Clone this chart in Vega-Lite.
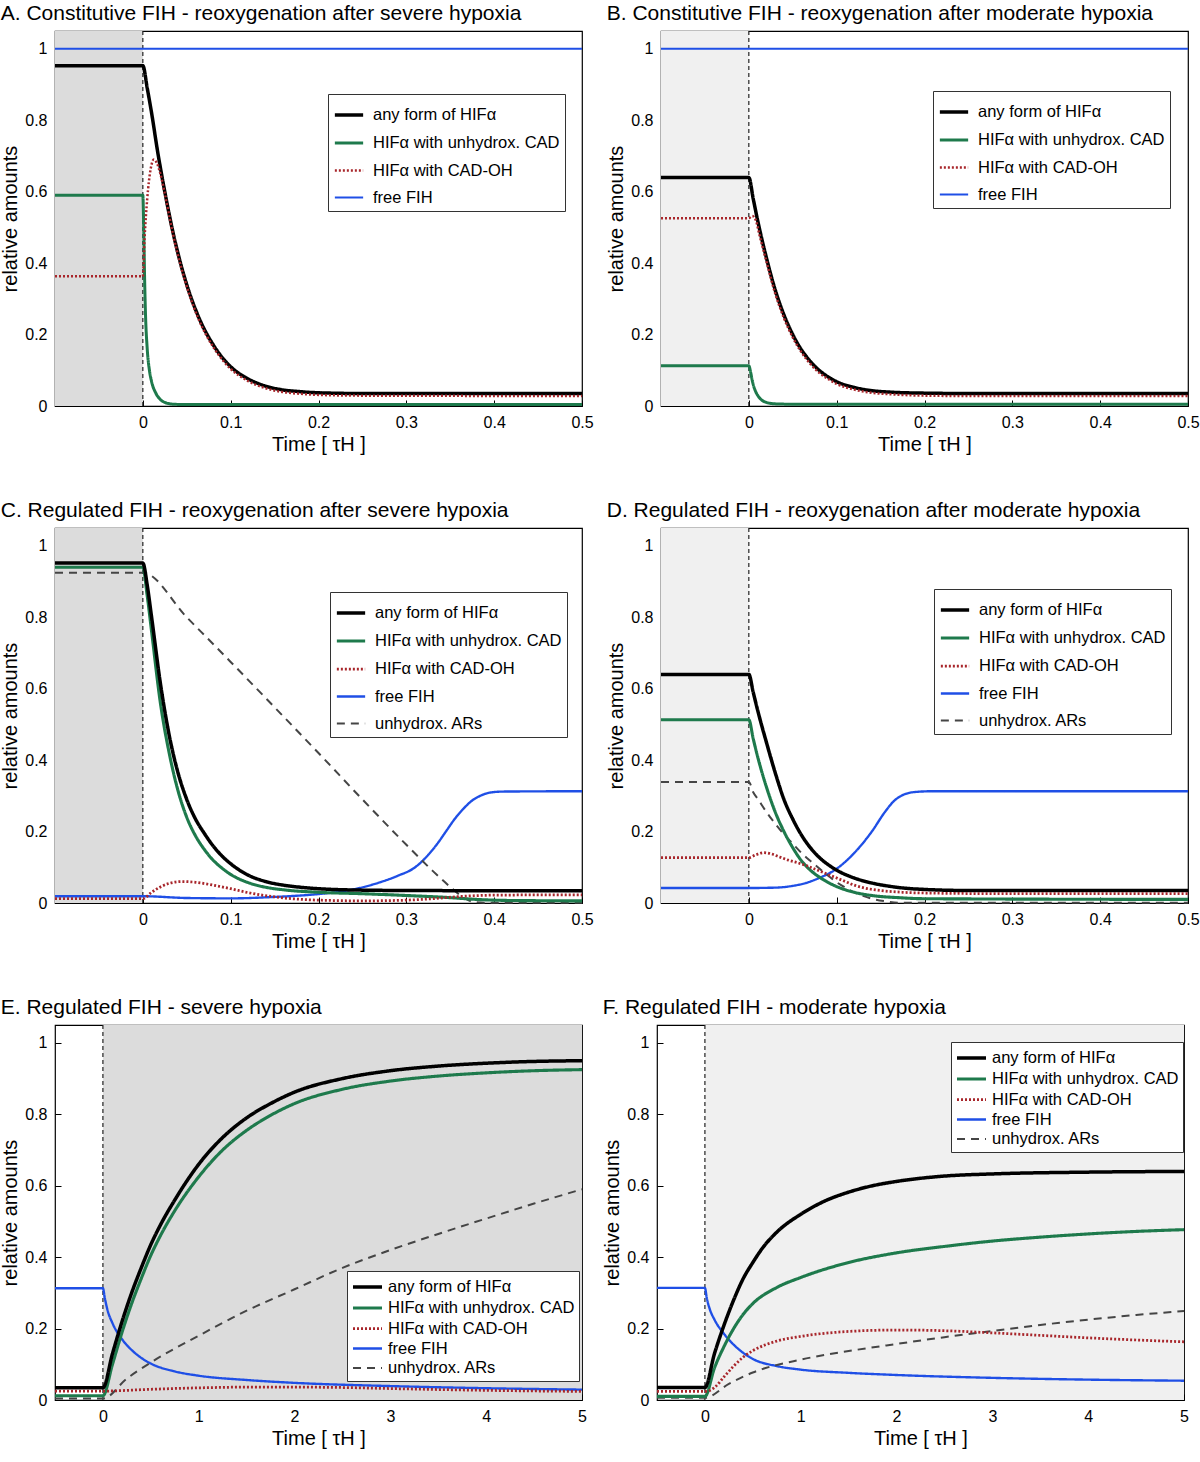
{
"$schema": "https://vega.github.io/schema/vega-lite/v6.json",
"padding": {"left": 0, "top": 2, "right": 0, "bottom": 2},
"background": "white",
"config": {
  "font": "Liberation Sans",
  "view": {"stroke": "#000", "strokeWidth": 1.2},
  "axis": {"grid": false, "domain": false, "labelFontSize": 16, "titleFontSize": 20, "titleFontWeight": "normal", "labelColor": "#000", "titleColor": "#000", "tickColor": "#000", "tickSize": -6, "labelPadding": 14, "labelFlush": false, "labelFont": "Liberation Sans", "titleFont": "Liberation Sans"},
  "title": {"fontSize": 21, "fontWeight": "normal", "anchor": "start", "frame": "bounds", "offset": 6, "color": "#000", "font": "Liberation Sans"},
  "legend": {"orient": "none", "labelFontSize": 16.5, "labelColor": "#000", "labelFont": "Liberation Sans", "symbolType": "stroke", "symbolSize": 800, "strokeColor": "#333", "fillColor": "#fff", "padding": 5, "labelOffset": 8, "labelLimit": 400}
},
"datasets": {
"A": [
{"t":-0.1,"v":1,"s":"fih"},{"t":0.5,"v":1,"s":"fih"},
{"t":-0.1,"v":0.59,"s":"cad"},{"t":0,"v":0.59,"s":"cad"},{"t":0.001,"v":0.5,"s":"cad"},{"t":0.002,"v":0.36,"s":"cad"},{"t":0.003,"v":0.26,"s":"cad"},{"t":0.005,"v":0.16,"s":"cad"},{"t":0.0075,"v":0.1,"s":"cad"},{"t":0.01,"v":0.068,"s":"cad"},{"t":0.015,"v":0.035,"s":"cad"},{"t":0.02,"v":0.018,"s":"cad"},{"t":0.025,"v":0.01,"s":"cad"},{"t":0.035,"v":0.005,"s":"cad"},{"t":0.05,"v":0.004,"s":"cad"},{"t":0.5,"v":0.004,"s":"cad"},
{"t":-0.1,"v":0.953,"s":"any"},{"t":0,"v":0.953,"s":"any"},{"t":0.005,"v":0.89,"s":"any"},{"t":0.01,"v":0.82,"s":"any"},{"t":0.017,"v":0.71,"s":"any"},{"t":0.025,"v":0.6,"s":"any"},{"t":0.034,"v":0.49,"s":"any"},{"t":0.044,"v":0.39,"s":"any"},{"t":0.053,"v":0.317,"s":"any"},{"t":0.063,"v":0.252,"s":"any"},{"t":0.081,"v":0.168,"s":"any"},{"t":0.1,"v":0.11,"s":"any"},{"t":0.119,"v":0.077,"s":"any"},{"t":0.138,"v":0.057,"s":"any"},{"t":0.157,"v":0.046,"s":"any"},{"t":0.18,"v":0.04,"s":"any"},{"t":0.2,"v":0.037,"s":"any"},{"t":0.25,"v":0.035,"s":"any"},{"t":0.5,"v":0.035,"s":"any"},
{"t":-0.1,"v":0.363,"s":"oh"},{"t":0,"v":0.363,"s":"oh"},{"t":0.002,"v":0.47,"s":"oh"},{"t":0.005,"v":0.58,"s":"oh"},{"t":0.009,"v":0.665,"s":"oh"},{"t":0.0125,"v":0.69,"s":"oh"},{"t":0.016,"v":0.68,"s":"oh"},{"t":0.02,"v":0.65,"s":"oh"},{"t":0.025,"v":0.595,"s":"oh"},{"t":0.034,"v":0.485,"s":"oh"},{"t":0.044,"v":0.385,"s":"oh"},{"t":0.053,"v":0.312,"s":"oh"},{"t":0.063,"v":0.246,"s":"oh"},{"t":0.081,"v":0.162,"s":"oh"},{"t":0.1,"v":0.104,"s":"oh"},{"t":0.119,"v":0.071,"s":"oh"},{"t":0.138,"v":0.051,"s":"oh"},{"t":0.157,"v":0.04,"s":"oh"},{"t":0.18,"v":0.034,"s":"oh"},{"t":0.2,"v":0.031,"s":"oh"},{"t":0.25,"v":0.029,"s":"oh"},{"t":0.5,"v":0.028,"s":"oh"}
],
"B": [
{"t":-0.1,"v":1,"s":"fih"},{"t":0.5,"v":1,"s":"fih"},
{"t":-0.1,"v":0.113,"s":"cad"},{"t":0,"v":0.113,"s":"cad"},{"t":0.002,"v":0.095,"s":"cad"},{"t":0.004,"v":0.07,"s":"cad"},{"t":0.007,"v":0.045,"s":"cad"},{"t":0.01,"v":0.03,"s":"cad"},{"t":0.015,"v":0.016,"s":"cad"},{"t":0.02,"v":0.01,"s":"cad"},{"t":0.03,"v":0.006,"s":"cad"},{"t":0.05,"v":0.005,"s":"cad"},{"t":0.5,"v":0.005,"s":"cad"},
{"t":-0.1,"v":0.64,"s":"any"},{"t":0,"v":0.64,"s":"any"},{"t":0.005,"v":0.58,"s":"any"},{"t":0.01,"v":0.52,"s":"any"},{"t":0.02,"v":0.415,"s":"any"},{"t":0.03,"v":0.325,"s":"any"},{"t":0.04,"v":0.255,"s":"any"},{"t":0.05,"v":0.2,"s":"any"},{"t":0.06,"v":0.157,"s":"any"},{"t":0.07,"v":0.125,"s":"any"},{"t":0.08,"v":0.1,"s":"any"},{"t":0.09,"v":0.082,"s":"any"},{"t":0.1,"v":0.068,"s":"any"},{"t":0.12,"v":0.052,"s":"any"},{"t":0.14,"v":0.043,"s":"any"},{"t":0.16,"v":0.039,"s":"any"},{"t":0.2,"v":0.036,"s":"any"},{"t":0.25,"v":0.035,"s":"any"},{"t":0.5,"v":0.035,"s":"any"},
{"t":-0.1,"v":0.526,"s":"oh"},{"t":0,"v":0.526,"s":"oh"},{"t":0.004,"v":0.532,"s":"oh"},{"t":0.008,"v":0.52,"s":"oh"},{"t":0.012,"v":0.48,"s":"oh"},{"t":0.02,"v":0.405,"s":"oh"},{"t":0.03,"v":0.315,"s":"oh"},{"t":0.04,"v":0.246,"s":"oh"},{"t":0.05,"v":0.192,"s":"oh"},{"t":0.06,"v":0.15,"s":"oh"},{"t":0.07,"v":0.118,"s":"oh"},{"t":0.08,"v":0.093,"s":"oh"},{"t":0.09,"v":0.076,"s":"oh"},{"t":0.1,"v":0.062,"s":"oh"},{"t":0.12,"v":0.046,"s":"oh"},{"t":0.14,"v":0.037,"s":"oh"},{"t":0.16,"v":0.033,"s":"oh"},{"t":0.2,"v":0.029,"s":"oh"},{"t":0.25,"v":0.028,"s":"oh"},{"t":0.5,"v":0.028,"s":"oh"}
],
"C": [
{"t":-0.1,"v":0.019,"s":"fih"},{"t":0,"v":0.019,"s":"fih"},{"t":0.05,"v":0.014,"s":"fih"},{"t":0.1,"v":0.013,"s":"fih"},{"t":0.15,"v":0.017,"s":"fih"},{"t":0.2,"v":0.025,"s":"fih"},{"t":0.225,"v":0.032,"s":"fih"},{"t":0.25,"v":0.044,"s":"fih"},{"t":0.27,"v":0.058,"s":"fih"},{"t":0.29,"v":0.076,"s":"fih"},{"t":0.31,"v":0.1,"s":"fih"},{"t":0.325,"v":0.135,"s":"fih"},{"t":0.335,"v":0.165,"s":"fih"},{"t":0.345,"v":0.2,"s":"fih"},{"t":0.355,"v":0.235,"s":"fih"},{"t":0.365,"v":0.264,"s":"fih"},{"t":0.375,"v":0.287,"s":"fih"},{"t":0.385,"v":0.301,"s":"fih"},{"t":0.395,"v":0.309,"s":"fih"},{"t":0.41,"v":0.312,"s":"fih"},{"t":0.5,"v":0.313,"s":"fih"},
{"t":-0.1,"v":0.925,"s":"ar"},{"t":0,"v":0.925,"s":"ar"},{"t":0.05,"v":0.8,"s":"ar"},{"t":0.1,"v":0.675,"s":"ar"},{"t":0.15,"v":0.548,"s":"ar"},{"t":0.2,"v":0.42,"s":"ar"},{"t":0.25,"v":0.29,"s":"ar"},{"t":0.3,"v":0.163,"s":"ar"},{"t":0.33,"v":0.09,"s":"ar"},{"t":0.35,"v":0.045,"s":"ar"},{"t":0.365,"v":0.015,"s":"ar"},{"t":0.375,"v":0.004,"s":"ar"},{"t":0.39,"v":0.001,"s":"ar"},{"t":0.5,"v":0.001,"s":"ar"},
{"t":-0.1,"v":0.94,"s":"cad"},{"t":0,"v":0.94,"s":"cad"},{"t":0.005,"v":0.86,"s":"cad"},{"t":0.01,"v":0.76,"s":"cad"},{"t":0.02,"v":0.56,"s":"cad"},{"t":0.03,"v":0.42,"s":"cad"},{"t":0.04,"v":0.315,"s":"cad"},{"t":0.05,"v":0.24,"s":"cad"},{"t":0.06,"v":0.188,"s":"cad"},{"t":0.07,"v":0.15,"s":"cad"},{"t":0.08,"v":0.12,"s":"cad"},{"t":0.09,"v":0.098,"s":"cad"},{"t":0.1,"v":0.08,"s":"cad"},{"t":0.12,"v":0.057,"s":"cad"},{"t":0.14,"v":0.044,"s":"cad"},{"t":0.16,"v":0.037,"s":"cad"},{"t":0.2,"v":0.03,"s":"cad"},{"t":0.25,"v":0.026,"s":"cad"},{"t":0.3,"v":0.021,"s":"cad"},{"t":0.35,"v":0.015,"s":"cad"},{"t":0.38,"v":0.01,"s":"cad"},{"t":0.42,"v":0.007,"s":"cad"},{"t":0.5,"v":0.006,"s":"cad"},
{"t":-0.1,"v":0.952,"s":"any"},{"t":0,"v":0.952,"s":"any"},{"t":0.005,"v":0.89,"s":"any"},{"t":0.01,"v":0.8,"s":"any"},{"t":0.02,"v":0.615,"s":"any"},{"t":0.03,"v":0.47,"s":"any"},{"t":0.04,"v":0.365,"s":"any"},{"t":0.05,"v":0.29,"s":"any"},{"t":0.06,"v":0.235,"s":"any"},{"t":0.07,"v":0.195,"s":"any"},{"t":0.08,"v":0.16,"s":"any"},{"t":0.09,"v":0.132,"s":"any"},{"t":0.1,"v":0.11,"s":"any"},{"t":0.12,"v":0.078,"s":"any"},{"t":0.14,"v":0.06,"s":"any"},{"t":0.16,"v":0.05,"s":"any"},{"t":0.18,"v":0.044,"s":"any"},{"t":0.2,"v":0.04,"s":"any"},{"t":0.25,"v":0.036,"s":"any"},{"t":0.3,"v":0.035,"s":"any"},{"t":0.5,"v":0.034,"s":"any"},
{"t":-0.1,"v":0.012,"s":"oh"},{"t":0,"v":0.012,"s":"oh"},{"t":0.01,"v":0.03,"s":"oh"},{"t":0.02,"v":0.045,"s":"oh"},{"t":0.03,"v":0.055,"s":"oh"},{"t":0.045,"v":0.06,"s":"oh"},{"t":0.06,"v":0.058,"s":"oh"},{"t":0.08,"v":0.05,"s":"oh"},{"t":0.1,"v":0.04,"s":"oh"},{"t":0.12,"v":0.029,"s":"oh"},{"t":0.15,"v":0.017,"s":"oh"},{"t":0.2,"v":0.008,"s":"oh"},{"t":0.25,"v":0.006,"s":"oh"},{"t":0.3,"v":0.008,"s":"oh"},{"t":0.33,"v":0.012,"s":"oh"},{"t":0.36,"v":0.018,"s":"oh"},{"t":0.4,"v":0.022,"s":"oh"},{"t":0.5,"v":0.023,"s":"oh"}
],
"D": [
{"t":-0.1,"v":0.042,"s":"fih"},{"t":0,"v":0.042,"s":"fih"},{"t":0.03,"v":0.043,"s":"fih"},{"t":0.05,"v":0.048,"s":"fih"},{"t":0.065,"v":0.056,"s":"fih"},{"t":0.08,"v":0.07,"s":"fih"},{"t":0.1,"v":0.096,"s":"fih"},{"t":0.12,"v":0.14,"s":"fih"},{"t":0.14,"v":0.2,"s":"fih"},{"t":0.155,"v":0.255,"s":"fih"},{"t":0.165,"v":0.285,"s":"fih"},{"t":0.175,"v":0.302,"s":"fih"},{"t":0.19,"v":0.311,"s":"fih"},{"t":0.21,"v":0.313,"s":"fih"},{"t":0.5,"v":0.313,"s":"fih"},
{"t":-0.1,"v":0.339,"s":"ar"},{"t":0,"v":0.339,"s":"ar"},{"t":0.005,"v":0.31,"s":"ar"},{"t":0.01,"v":0.292,"s":"ar"},{"t":0.02,"v":0.255,"s":"ar"},{"t":0.03,"v":0.222,"s":"ar"},{"t":0.04,"v":0.192,"s":"ar"},{"t":0.05,"v":0.166,"s":"ar"},{"t":0.06,"v":0.14,"s":"ar"},{"t":0.07,"v":0.118,"s":"ar"},{"t":0.08,"v":0.097,"s":"ar"},{"t":0.09,"v":0.077,"s":"ar"},{"t":0.1,"v":0.058,"s":"ar"},{"t":0.11,"v":0.043,"s":"ar"},{"t":0.12,"v":0.03,"s":"ar"},{"t":0.13,"v":0.02,"s":"ar"},{"t":0.14,"v":0.012,"s":"ar"},{"t":0.155,"v":0.005,"s":"ar"},{"t":0.17,"v":0.001,"s":"ar"},{"t":0.5,"v":0.001,"s":"ar"},
{"t":-0.1,"v":0.513,"s":"cad"},{"t":0,"v":0.513,"s":"cad"},{"t":0.005,"v":0.46,"s":"cad"},{"t":0.01,"v":0.41,"s":"cad"},{"t":0.02,"v":0.325,"s":"cad"},{"t":0.03,"v":0.255,"s":"cad"},{"t":0.04,"v":0.2,"s":"cad"},{"t":0.05,"v":0.155,"s":"cad"},{"t":0.06,"v":0.118,"s":"cad"},{"t":0.07,"v":0.092,"s":"cad"},{"t":0.08,"v":0.073,"s":"cad"},{"t":0.09,"v":0.058,"s":"cad"},{"t":0.1,"v":0.046,"s":"cad"},{"t":0.12,"v":0.03,"s":"cad"},{"t":0.14,"v":0.021,"s":"cad"},{"t":0.17,"v":0.015,"s":"cad"},{"t":0.2,"v":0.012,"s":"cad"},{"t":0.5,"v":0.01,"s":"cad"},
{"t":-0.1,"v":0.64,"s":"any"},{"t":0,"v":0.64,"s":"any"},{"t":0.005,"v":0.59,"s":"any"},{"t":0.01,"v":0.54,"s":"any"},{"t":0.02,"v":0.45,"s":"any"},{"t":0.03,"v":0.365,"s":"any"},{"t":0.04,"v":0.29,"s":"any"},{"t":0.05,"v":0.235,"s":"any"},{"t":0.06,"v":0.19,"s":"any"},{"t":0.07,"v":0.155,"s":"any"},{"t":0.08,"v":0.128,"s":"any"},{"t":0.09,"v":0.108,"s":"any"},{"t":0.1,"v":0.092,"s":"any"},{"t":0.12,"v":0.07,"s":"any"},{"t":0.14,"v":0.056,"s":"any"},{"t":0.16,"v":0.047,"s":"any"},{"t":0.18,"v":0.041,"s":"any"},{"t":0.2,"v":0.038,"s":"any"},{"t":0.25,"v":0.035,"s":"any"},{"t":0.5,"v":0.035,"s":"any"},
{"t":-0.1,"v":0.127,"s":"oh"},{"t":0,"v":0.127,"s":"oh"},{"t":0.008,"v":0.135,"s":"oh"},{"t":0.017,"v":0.141,"s":"oh"},{"t":0.025,"v":0.138,"s":"oh"},{"t":0.035,"v":0.129,"s":"oh"},{"t":0.045,"v":0.12,"s":"oh"},{"t":0.055,"v":0.113,"s":"oh"},{"t":0.065,"v":0.105,"s":"oh"},{"t":0.075,"v":0.095,"s":"oh"},{"t":0.087,"v":0.083,"s":"oh"},{"t":0.1,"v":0.07,"s":"oh"},{"t":0.11,"v":0.06,"s":"oh"},{"t":0.12,"v":0.05,"s":"oh"},{"t":0.13,"v":0.043,"s":"oh"},{"t":0.15,"v":0.035,"s":"oh"},{"t":0.175,"v":0.03,"s":"oh"},{"t":0.2,"v":0.028,"s":"oh"},{"t":0.3,"v":0.026,"s":"oh"},{"t":0.5,"v":0.026,"s":"oh"}
],
"E": [
{"t":-0.5,"v":0.313,"s":"fih"},{"t":0,"v":0.313,"s":"fih"},{"t":0.02,"v":0.285,"s":"fih"},{"t":0.05,"v":0.25,"s":"fih"},{"t":0.1,"v":0.215,"s":"fih"},{"t":0.2,"v":0.17,"s":"fih"},{"t":0.3,"v":0.14,"s":"fih"},{"t":0.4,"v":0.118,"s":"fih"},{"t":0.5,"v":0.102,"s":"fih"},{"t":0.75,"v":0.08,"s":"fih"},{"t":1,"v":0.068,"s":"fih"},{"t":1.5,"v":0.056,"s":"fih"},{"t":2,"v":0.048,"s":"fih"},{"t":3,"v":0.039,"s":"fih"},{"t":4,"v":0.033,"s":"fih"},{"t":5,"v":0.029,"s":"fih"},
{"t":-0.5,"v":0.004,"s":"ar"},{"t":0,"v":0.004,"s":"ar"},{"t":0.25,"v":0.06,"s":"ar"},{"t":0.5,"v":0.105,"s":"ar"},{"t":1,"v":0.18,"s":"ar"},{"t":1.5,"v":0.25,"s":"ar"},{"t":2,"v":0.31,"s":"ar"},{"t":2.5,"v":0.37,"s":"ar"},{"t":3,"v":0.42,"s":"ar"},{"t":3.5,"v":0.465,"s":"ar"},{"t":4,"v":0.508,"s":"ar"},{"t":4.5,"v":0.55,"s":"ar"},{"t":5,"v":0.59,"s":"ar"},
{"t":-0.5,"v":0.012,"s":"cad"},{"t":0,"v":0.012,"s":"cad"},{"t":0.1,"v":0.1,"s":"cad"},{"t":0.2,"v":0.19,"s":"cad"},{"t":0.3,"v":0.27,"s":"cad"},{"t":0.4,"v":0.34,"s":"cad"},{"t":0.5,"v":0.405,"s":"cad"},{"t":0.6,"v":0.46,"s":"cad"},{"t":0.75,"v":0.53,"s":"cad"},{"t":1,"v":0.625,"s":"cad"},{"t":1.25,"v":0.7,"s":"cad"},{"t":1.5,"v":0.755,"s":"cad"},{"t":1.75,"v":0.797,"s":"cad"},{"t":2,"v":0.83,"s":"cad"},{"t":2.5,"v":0.87,"s":"cad"},{"t":3,"v":0.893,"s":"cad"},{"t":3.5,"v":0.907,"s":"cad"},{"t":4,"v":0.916,"s":"cad"},{"t":4.5,"v":0.922,"s":"cad"},{"t":5,"v":0.925,"s":"cad"},
{"t":-0.5,"v":0.034,"s":"any"},{"t":0,"v":0.034,"s":"any"},{"t":0.1,"v":0.13,"s":"any"},{"t":0.2,"v":0.22,"s":"any"},{"t":0.3,"v":0.3,"s":"any"},{"t":0.4,"v":0.37,"s":"any"},{"t":0.5,"v":0.435,"s":"any"},{"t":0.6,"v":0.49,"s":"any"},{"t":0.75,"v":0.56,"s":"any"},{"t":1,"v":0.66,"s":"any"},{"t":1.25,"v":0.735,"s":"any"},{"t":1.5,"v":0.79,"s":"any"},{"t":1.75,"v":0.83,"s":"any"},{"t":2,"v":0.862,"s":"any"},{"t":2.5,"v":0.9,"s":"any"},{"t":3,"v":0.922,"s":"any"},{"t":3.5,"v":0.935,"s":"any"},{"t":4,"v":0.943,"s":"any"},{"t":4.5,"v":0.948,"s":"any"},{"t":5,"v":0.95,"s":"any"},
{"t":-0.5,"v":0.025,"s":"oh"},{"t":0,"v":0.025,"s":"oh"},{"t":0.5,"v":0.03,"s":"oh"},{"t":1,"v":0.034,"s":"oh"},{"t":1.5,"v":0.036,"s":"oh"},{"t":2,"v":0.036,"s":"oh"},{"t":2.5,"v":0.035,"s":"oh"},{"t":3,"v":0.032,"s":"oh"},{"t":4,"v":0.027,"s":"oh"},{"t":5,"v":0.024,"s":"oh"}
],
"F": [
{"t":-0.5,"v":0.314,"s":"fih"},{"t":0,"v":0.314,"s":"fih"},{"t":0.02,"v":0.285,"s":"fih"},{"t":0.05,"v":0.255,"s":"fih"},{"t":0.1,"v":0.225,"s":"fih"},{"t":0.2,"v":0.185,"s":"fih"},{"t":0.3,"v":0.155,"s":"fih"},{"t":0.4,"v":0.132,"s":"fih"},{"t":0.5,"v":0.115,"s":"fih"},{"t":0.75,"v":0.095,"s":"fih"},{"t":1,"v":0.085,"s":"fih"},{"t":1.5,"v":0.076,"s":"fih"},{"t":2,"v":0.07,"s":"fih"},{"t":3,"v":0.062,"s":"fih"},{"t":4,"v":0.057,"s":"fih"},{"t":5,"v":0.054,"s":"fih"},
{"t":-0.5,"v":0.006,"s":"ar"},{"t":0,"v":0.006,"s":"ar"},{"t":0.25,"v":0.045,"s":"ar"},{"t":0.5,"v":0.077,"s":"ar"},{"t":1,"v":0.113,"s":"ar"},{"t":1.5,"v":0.137,"s":"ar"},{"t":2,"v":0.157,"s":"ar"},{"t":2.5,"v":0.176,"s":"ar"},{"t":3,"v":0.193,"s":"ar"},{"t":3.5,"v":0.21,"s":"ar"},{"t":4,"v":0.225,"s":"ar"},{"t":4.5,"v":0.238,"s":"ar"},{"t":5,"v":0.249,"s":"ar"},
{"t":-0.5,"v":0.01,"s":"cad"},{"t":0,"v":0.01,"s":"cad"},{"t":0.1,"v":0.09,"s":"cad"},{"t":0.2,"v":0.15,"s":"cad"},{"t":0.3,"v":0.2,"s":"cad"},{"t":0.4,"v":0.24,"s":"cad"},{"t":0.5,"v":0.27,"s":"cad"},{"t":0.75,"v":0.315,"s":"cad"},{"t":1,"v":0.343,"s":"cad"},{"t":1.5,"v":0.385,"s":"cad"},{"t":2,"v":0.412,"s":"cad"},{"t":2.5,"v":0.43,"s":"cad"},{"t":3,"v":0.445,"s":"cad"},{"t":3.5,"v":0.456,"s":"cad"},{"t":4,"v":0.465,"s":"cad"},{"t":4.5,"v":0.472,"s":"cad"},{"t":5,"v":0.477,"s":"cad"},
{"t":-0.5,"v":0.035,"s":"any"},{"t":0,"v":0.035,"s":"any"},{"t":0.1,"v":0.13,"s":"any"},{"t":0.2,"v":0.21,"s":"any"},{"t":0.3,"v":0.28,"s":"any"},{"t":0.4,"v":0.34,"s":"any"},{"t":0.5,"v":0.385,"s":"any"},{"t":0.6,"v":0.425,"s":"any"},{"t":0.75,"v":0.47,"s":"any"},{"t":1,"v":0.52,"s":"any"},{"t":1.25,"v":0.557,"s":"any"},{"t":1.5,"v":0.582,"s":"any"},{"t":1.75,"v":0.6,"s":"any"},{"t":2,"v":0.612,"s":"any"},{"t":2.5,"v":0.627,"s":"any"},{"t":3,"v":0.633,"s":"any"},{"t":4,"v":0.638,"s":"any"},{"t":5,"v":0.64,"s":"any"},
{"t":-0.5,"v":0.024,"s":"oh"},{"t":0,"v":0.024,"s":"oh"},{"t":0.1,"v":0.035,"s":"oh"},{"t":0.2,"v":0.065,"s":"oh"},{"t":0.3,"v":0.095,"s":"oh"},{"t":0.4,"v":0.12,"s":"oh"},{"t":0.5,"v":0.138,"s":"oh"},{"t":0.75,"v":0.165,"s":"oh"},{"t":1,"v":0.178,"s":"oh"},{"t":1.5,"v":0.192,"s":"oh"},{"t":2,"v":0.196,"s":"oh"},{"t":2.5,"v":0.194,"s":"oh"},{"t":3,"v":0.188,"s":"oh"},{"t":3.5,"v":0.181,"s":"oh"},{"t":4,"v":0.174,"s":"oh"},{"t":4.5,"v":0.168,"s":"oh"},{"t":5,"v":0.163,"s":"oh"}
]
},
"spacing": 44,
"resolve": {"scale": {"color": "independent", "strokeDash": "independent", "strokeWidth": "independent"}, "legend": {"color": "independent", "strokeDash": "independent", "strokeWidth": "independent"}},
"vconcat": [
{"spacing": 12,
 "resolve": {"scale": {"color": "independent", "strokeDash": "independent", "strokeWidth": "independent"}, "legend": {"color": "independent", "strokeDash": "independent", "strokeWidth": "independent"}},
 "hconcat": [
 {"title": "A. Constitutive FIH - reoxygenation after severe hypoxia", "width": 527, "height": 375,
  "encoding": {"x": {"field": "t", "type": "quantitative", "scale": {"domain": [-0.1, 0.5], "nice": false, "zero": false}, "axis": {"title": "Time [ τH ]", "values": [0, 0.1, 0.2, 0.3, 0.4, 0.5], "format": "~g"}}},
  "layer": [
   {"data": {"values": [{"t": -0.1, "t2": 0}]}, "mark": {"type": "rect", "color": "#dcdcdc"}, "encoding": {"x2": {"field": "t2"}}},
   {"data": {"values": [{"t": 0}]}, "mark": {"type": "rule", "color": "#222", "strokeDash": [4, 3], "strokeWidth": 1.2}, "encoding": {}},
   {"data": {"name": "A"}, "mark": {"type": "line", "interpolate": "monotone"}, "encoding": {
     "y": {"field": "v", "type": "quantitative", "scale": {"domain": [0, 1.05], "nice": false, "zero": false}, "axis": {"title": "relative amounts", "values": [0, 0.2, 0.4, 0.6, 0.8, 1], "format": "~g"}},
     "color": {"field": "s", "type": "nominal", "scale": {"domain": ["any", "cad", "oh", "fih"], "range": ["#000000", "#1e7a4c", "#a8262b", "#1f4fe6"]}, "legend": {"title": null, "legendX": 273, "legendY": 63, "rowPadding": 3, "labelExpr": "{'any':'any form of HIFα','cad':'HIFα with unhydrox. CAD','oh':'HIFα with CAD-OH','fih':'free FIH','ar':'unhydrox. ARs'}[datum.label]"}},
     "strokeDash": {"field": "s", "type": "nominal", "scale": {"domain": ["any", "cad", "oh", "fih"], "range": [[1, 0], [1, 0], [2, 2], [1, 0]]}, "legend": {"title": null, "legendX": 273, "legendY": 63, "rowPadding": 3, "labelExpr": "{'any':'any form of HIFα','cad':'HIFα with unhydrox. CAD','oh':'HIFα with CAD-OH','fih':'free FIH','ar':'unhydrox. ARs'}[datum.label]"}},
     "strokeWidth": {"field": "s", "type": "nominal", "scale": {"domain": ["any", "cad", "oh", "fih"], "range": [3.5, 2, 2.2, 2]}, "legend": {"title": null, "legendX": 273, "legendY": 63, "rowPadding": 3, "labelExpr": "{'any':'any form of HIFα','cad':'HIFα with unhydrox. CAD','oh':'HIFα with CAD-OH','fih':'free FIH','ar':'unhydrox. ARs'}[datum.label]"}}
   }}
  ]},
 {"title": "B. Constitutive FIH - reoxygenation after moderate hypoxia", "width": 527, "height": 375,
  "encoding": {"x": {"field": "t", "type": "quantitative", "scale": {"domain": [-0.1, 0.5], "nice": false, "zero": false}, "axis": {"title": "Time [ τH ]", "values": [0, 0.1, 0.2, 0.3, 0.4, 0.5], "format": "~g"}}},
  "layer": [
   {"data": {"values": [{"t": -0.1, "t2": 0}]}, "mark": {"type": "rect", "color": "#f0f0f0"}, "encoding": {"x2": {"field": "t2"}}},
   {"data": {"values": [{"t": 0}]}, "mark": {"type": "rule", "color": "#222", "strokeDash": [4, 3], "strokeWidth": 1.2}, "encoding": {}},
   {"data": {"name": "B"}, "mark": {"type": "line", "interpolate": "monotone"}, "encoding": {
     "y": {"field": "v", "type": "quantitative", "scale": {"domain": [0, 1.05], "nice": false, "zero": false}, "axis": {"title": "relative amounts", "values": [0, 0.2, 0.4, 0.6, 0.8, 1], "format": "~g"}},
     "color": {"field": "s", "type": "nominal", "scale": {"domain": ["any", "cad", "oh", "fih"], "range": ["#000000", "#1e7a4c", "#a8262b", "#1f4fe6"]}, "legend": {"title": null, "legendX": 272, "legendY": 60, "rowPadding": 3, "labelExpr": "{'any':'any form of HIFα','cad':'HIFα with unhydrox. CAD','oh':'HIFα with CAD-OH','fih':'free FIH','ar':'unhydrox. ARs'}[datum.label]"}},
     "strokeDash": {"field": "s", "type": "nominal", "scale": {"domain": ["any", "cad", "oh", "fih"], "range": [[1, 0], [1, 0], [2, 2], [1, 0]]}, "legend": {"title": null, "legendX": 272, "legendY": 60, "rowPadding": 3, "labelExpr": "{'any':'any form of HIFα','cad':'HIFα with unhydrox. CAD','oh':'HIFα with CAD-OH','fih':'free FIH','ar':'unhydrox. ARs'}[datum.label]"}},
     "strokeWidth": {"field": "s", "type": "nominal", "scale": {"domain": ["any", "cad", "oh", "fih"], "range": [3.5, 2, 2.2, 2]}, "legend": {"title": null, "legendX": 272, "legendY": 60, "rowPadding": 3, "labelExpr": "{'any':'any form of HIFα','cad':'HIFα with unhydrox. CAD','oh':'HIFα with CAD-OH','fih':'free FIH','ar':'unhydrox. ARs'}[datum.label]"}}
   }}
  ]}
 ]},
{"spacing": 12,
 "resolve": {"scale": {"color": "independent", "strokeDash": "independent", "strokeWidth": "independent"}, "legend": {"color": "independent", "strokeDash": "independent", "strokeWidth": "independent"}},
 "hconcat": [
 {"title": "C. Regulated FIH - reoxygenation after severe hypoxia", "width": 527, "height": 375,
  "encoding": {"x": {"field": "t", "type": "quantitative", "scale": {"domain": [-0.1, 0.5], "nice": false, "zero": false}, "axis": {"title": "Time [ τH ]", "values": [0, 0.1, 0.2, 0.3, 0.4, 0.5], "format": "~g"}}},
  "layer": [
   {"data": {"values": [{"t": -0.1, "t2": 0}]}, "mark": {"type": "rect", "color": "#dcdcdc"}, "encoding": {"x2": {"field": "t2"}}},
   {"data": {"values": [{"t": 0}]}, "mark": {"type": "rule", "color": "#222", "strokeDash": [4, 3], "strokeWidth": 1.2}, "encoding": {}},
   {"data": {"name": "C"}, "mark": {"type": "line", "interpolate": "monotone"}, "encoding": {
     "y": {"field": "v", "type": "quantitative", "scale": {"domain": [0, 1.05], "nice": false, "zero": false}, "axis": {"title": "relative amounts", "values": [0, 0.2, 0.4, 0.6, 0.8, 1], "format": "~g"}},
     "color": {"field": "s", "type": "nominal", "scale": {"domain": ["any", "cad", "oh", "fih", "ar"], "range": ["#000000", "#1e7a4c", "#a8262b", "#1f4fe6", "#454545"]}, "legend": {"title": null, "legendX": 275, "legendY": 64, "rowPadding": 3, "labelExpr": "{'any':'any form of HIFα','cad':'HIFα with unhydrox. CAD','oh':'HIFα with CAD-OH','fih':'free FIH','ar':'unhydrox. ARs'}[datum.label]"}},
     "strokeDash": {"field": "s", "type": "nominal", "scale": {"domain": ["any", "cad", "oh", "fih", "ar"], "range": [[1, 0], [1, 0], [2, 2], [1, 0], [8, 6]]}, "legend": {"title": null, "legendX": 275, "legendY": 64, "rowPadding": 3, "labelExpr": "{'any':'any form of HIFα','cad':'HIFα with unhydrox. CAD','oh':'HIFα with CAD-OH','fih':'free FIH','ar':'unhydrox. ARs'}[datum.label]"}},
     "strokeWidth": {"field": "s", "type": "nominal", "scale": {"domain": ["any", "cad", "oh", "fih", "ar"], "range": [3.5, 2, 2.2, 2, 2.5]}, "legend": {"title": null, "legendX": 275, "legendY": 64, "rowPadding": 3, "labelExpr": "{'any':'any form of HIFα','cad':'HIFα with unhydrox. CAD','oh':'HIFα with CAD-OH','fih':'free FIH','ar':'unhydrox. ARs'}[datum.label]"}}
   }}
  ]},
 {"title": "D. Regulated FIH - reoxygenation after moderate hypoxia", "width": 527, "height": 375,
  "encoding": {"x": {"field": "t", "type": "quantitative", "scale": {"domain": [-0.1, 0.5], "nice": false, "zero": false}, "axis": {"title": "Time [ τH ]", "values": [0, 0.1, 0.2, 0.3, 0.4, 0.5], "format": "~g"}}},
  "layer": [
   {"data": {"values": [{"t": -0.1, "t2": 0}]}, "mark": {"type": "rect", "color": "#f0f0f0"}, "encoding": {"x2": {"field": "t2"}}},
   {"data": {"values": [{"t": 0}]}, "mark": {"type": "rule", "color": "#222", "strokeDash": [4, 3], "strokeWidth": 1.2}, "encoding": {}},
   {"data": {"name": "D"}, "mark": {"type": "line", "interpolate": "monotone"}, "encoding": {
     "y": {"field": "v", "type": "quantitative", "scale": {"domain": [0, 1.05], "nice": false, "zero": false}, "axis": {"title": "relative amounts", "values": [0, 0.2, 0.4, 0.6, 0.8, 1], "format": "~g"}},
     "color": {"field": "s", "type": "nominal", "scale": {"domain": ["any", "cad", "oh", "fih", "ar"], "range": ["#000000", "#1e7a4c", "#a8262b", "#1f4fe6", "#454545"]}, "legend": {"title": null, "legendX": 273, "legendY": 61, "rowPadding": 3, "labelExpr": "{'any':'any form of HIFα','cad':'HIFα with unhydrox. CAD','oh':'HIFα with CAD-OH','fih':'free FIH','ar':'unhydrox. ARs'}[datum.label]"}},
     "strokeDash": {"field": "s", "type": "nominal", "scale": {"domain": ["any", "cad", "oh", "fih", "ar"], "range": [[1, 0], [1, 0], [2, 2], [1, 0], [8, 6]]}, "legend": {"title": null, "legendX": 273, "legendY": 61, "rowPadding": 3, "labelExpr": "{'any':'any form of HIFα','cad':'HIFα with unhydrox. CAD','oh':'HIFα with CAD-OH','fih':'free FIH','ar':'unhydrox. ARs'}[datum.label]"}},
     "strokeWidth": {"field": "s", "type": "nominal", "scale": {"domain": ["any", "cad", "oh", "fih", "ar"], "range": [3.5, 2, 2.2, 2, 2.5]}, "legend": {"title": null, "legendX": 273, "legendY": 61, "rowPadding": 3, "labelExpr": "{'any':'any form of HIFα','cad':'HIFα with unhydrox. CAD','oh':'HIFα with CAD-OH','fih':'free FIH','ar':'unhydrox. ARs'}[datum.label]"}}
   }}
  ]}
 ]},
{"spacing": 12,
 "resolve": {"scale": {"color": "independent", "strokeDash": "independent", "strokeWidth": "independent"}, "legend": {"color": "independent", "strokeDash": "independent", "strokeWidth": "independent"}},
 "hconcat": [
 {"title": "E. Regulated FIH - severe hypoxia", "width": 527, "height": 375,
  "encoding": {"x": {"field": "t", "type": "quantitative", "scale": {"domain": [-0.5, 5], "nice": false, "zero": false}, "axis": {"title": "Time [ τH ]", "values": [0, 1, 2, 3, 4, 5], "format": "~g"}}},
  "layer": [
   {"data": {"values": [{"t": 0, "t2": 5}]}, "mark": {"type": "rect", "color": "#dcdcdc"}, "encoding": {"x2": {"field": "t2"}}},
   {"data": {"values": [{"t": 0}]}, "mark": {"type": "rule", "color": "#222", "strokeDash": [4, 3], "strokeWidth": 1.2}, "encoding": {}},
   {"data": {"name": "E"}, "mark": {"type": "line", "interpolate": "monotone"}, "encoding": {
     "y": {"field": "v", "type": "quantitative", "scale": {"domain": [0, 1.05], "nice": false, "zero": false}, "axis": {"title": "relative amounts", "values": [0, 0.2, 0.4, 0.6, 0.8, 1], "format": "~g"}},
     "color": {"field": "s", "type": "nominal", "scale": {"domain": ["any", "cad", "oh", "fih", "ar"], "range": ["#000000", "#1e7a4c", "#a8262b", "#1f4fe6", "#454545"]}, "legend": {"title": null, "legendX": 292, "legendY": 246, "rowPadding": 0, "padding": 4, "symbolSize": 400, "symbolType": "M-1,0H1.9", "labelOffset": 13, "labelExpr": "{'any':'any form of HIFα','cad':'HIFα with unhydrox. CAD','oh':'HIFα with CAD-OH','fih':'free FIH','ar':'unhydrox. ARs'}[datum.label]"}},
     "strokeDash": {"field": "s", "type": "nominal", "scale": {"domain": ["any", "cad", "oh", "fih", "ar"], "range": [[1, 0], [1, 0], [2, 2], [1, 0], [8, 6]]}, "legend": {"title": null, "legendX": 292, "legendY": 246, "rowPadding": 0, "padding": 4, "symbolSize": 400, "symbolType": "M-1,0H1.9", "labelOffset": 13, "labelExpr": "{'any':'any form of HIFα','cad':'HIFα with unhydrox. CAD','oh':'HIFα with CAD-OH','fih':'free FIH','ar':'unhydrox. ARs'}[datum.label]"}},
     "strokeWidth": {"field": "s", "type": "nominal", "scale": {"domain": ["any", "cad", "oh", "fih", "ar"], "range": [3.5, 2, 2.2, 2, 2.5]}, "legend": {"title": null, "legendX": 292, "legendY": 246, "rowPadding": 0, "padding": 4, "symbolSize": 400, "symbolType": "M-1,0H1.9", "labelOffset": 13, "labelExpr": "{'any':'any form of HIFα','cad':'HIFα with unhydrox. CAD','oh':'HIFα with CAD-OH','fih':'free FIH','ar':'unhydrox. ARs'}[datum.label]"}}
   }}
  ]},
 {"title": "F. Regulated FIH - moderate hypoxia", "width": 527, "height": 375,
  "encoding": {"x": {"field": "t", "type": "quantitative", "scale": {"domain": [-0.5, 5], "nice": false, "zero": false}, "axis": {"title": "Time [ τH ]", "values": [0, 1, 2, 3, 4, 5], "format": "~g"}}},
  "layer": [
   {"data": {"values": [{"t": 0, "t2": 5}]}, "mark": {"type": "rect", "color": "#f0f0f0"}, "encoding": {"x2": {"field": "t2"}}},
   {"data": {"values": [{"t": 0}]}, "mark": {"type": "rule", "color": "#222", "strokeDash": [4, 3], "strokeWidth": 1.2}, "encoding": {}},
   {"data": {"name": "F"}, "mark": {"type": "line", "interpolate": "monotone"}, "encoding": {
     "y": {"field": "v", "type": "quantitative", "scale": {"domain": [0, 1.05], "nice": false, "zero": false}, "axis": {"title": "relative amounts", "values": [0, 0.2, 0.4, 0.6, 0.8, 1], "format": "~g"}},
     "color": {"field": "s", "type": "nominal", "scale": {"domain": ["any", "cad", "oh", "fih", "ar"], "range": ["#000000", "#1e7a4c", "#a8262b", "#1f4fe6", "#454545"]}, "legend": {"title": null, "legendX": 294, "legendY": 17, "rowPadding": 0, "padding": 4, "symbolSize": 400, "symbolType": "M-1,0H1.9", "labelOffset": 13, "labelExpr": "{'any':'any form of HIFα','cad':'HIFα with unhydrox. CAD','oh':'HIFα with CAD-OH','fih':'free FIH','ar':'unhydrox. ARs'}[datum.label]"}},
     "strokeDash": {"field": "s", "type": "nominal", "scale": {"domain": ["any", "cad", "oh", "fih", "ar"], "range": [[1, 0], [1, 0], [2, 2], [1, 0], [8, 6]]}, "legend": {"title": null, "legendX": 294, "legendY": 17, "rowPadding": 0, "padding": 4, "symbolSize": 400, "symbolType": "M-1,0H1.9", "labelOffset": 13, "labelExpr": "{'any':'any form of HIFα','cad':'HIFα with unhydrox. CAD','oh':'HIFα with CAD-OH','fih':'free FIH','ar':'unhydrox. ARs'}[datum.label]"}},
     "strokeWidth": {"field": "s", "type": "nominal", "scale": {"domain": ["any", "cad", "oh", "fih", "ar"], "range": [3.5, 2, 2.2, 2, 2.5]}, "legend": {"title": null, "legendX": 294, "legendY": 17, "rowPadding": 0, "padding": 4, "symbolSize": 400, "symbolType": "M-1,0H1.9", "labelOffset": 13, "labelExpr": "{'any':'any form of HIFα','cad':'HIFα with unhydrox. CAD','oh':'HIFα with CAD-OH','fih':'free FIH','ar':'unhydrox. ARs'}[datum.label]"}}
   }}
  ]}
 ]}
]
}
